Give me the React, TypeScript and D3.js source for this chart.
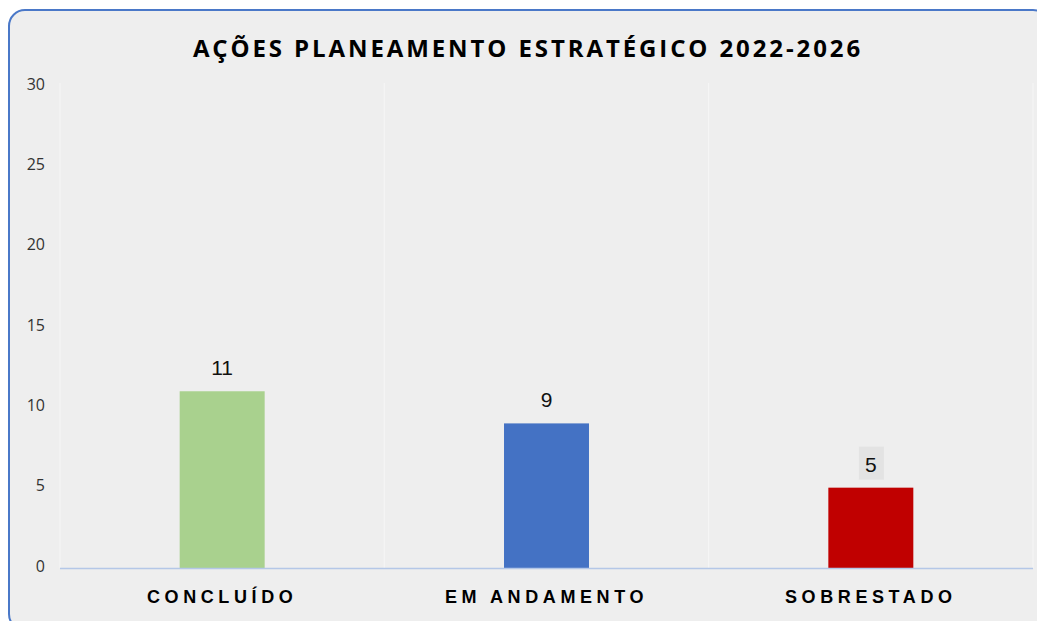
import React, { useEffect, useRef } from 'react';
import * as d3 from 'd3';

const categories = ['CONCLUÍDO', 'EM ANDAMENTO', 'SOBRESTADO'];
const values = [11, 9, 5];
const colors = ['#a9d18e', '#4472c4', '#c00000'];
const yTicks = [0, 5, 10, 15, 20, 25, 30];
const title = 'AÇÕES PLANEAMENTO ESTRATÉGICO 2022-2026';

function App() {
  const ref = useRef<SVGSVGElement>(null);

  useEffect(() => {
    const width = 1037, height = 621;
    const margin = { top: 86, right: 4, bottom: 53, left: 60 };
    const svg = d3.select(ref.current);
    svg.selectAll('*').remove();

    // background + rounded border
    svg.append('rect').attr('width', width).attr('height', height).attr('fill', '#ffffff');
    svg.append('rect')
      .attr('x', 9).attr('y', 10)
      .attr('width', 1040).attr('height', 620)
      .attr('rx', 16)
      .attr('fill', '#eeeeee')
      .attr('stroke', '#4a78c8')
      .attr('stroke-width', 2);

    svg.append('text')
      .attr('x', 528).attr('y', 57)
      .attr('text-anchor', 'middle')
      .attr('font-family', 'Open Sans, sans-serif')
      .attr('font-weight', 'bold')
      .attr('font-size', 24)
      .attr('letter-spacing', 2.9)
      .attr('fill', '#000')
      .text(title);

    const x = d3.scaleBand()
      .domain(categories)
      .range([margin.left, width - margin.right])
      .paddingInner(0)
      .paddingOuter(0);

    const y = d3.scaleLinear()
      .domain([0, 30])
      .range([height - margin.bottom, margin.top]);

    // vertical gridlines at category boundaries
    const bounds = categories.map(c => x(c) as number).concat([x.range()[1]]);
    svg.append('g').selectAll('line').data(bounds).join('line')
      .attr('x1', d => d).attr('x2', d => d)
      .attr('y1', y(30) - 3).attr('y2', y(0))
      .attr('stroke', '#f6f6f6').attr('stroke-width', 1);

    // y axis labels
    svg.append('g').selectAll('text').data(yTicks).join('text')
      .attr('x', 45)
      .attr('y', d => y(d) - 2)
      .attr('dy', '0.35em')
      .attr('text-anchor', 'end')
      .attr('font-family', 'Open Sans, sans-serif')
      .attr('font-size', 16)
      .attr('fill', '#333')
      .text(d => d);

    const bw = x.bandwidth() * 0.262;
    svg.append('g').selectAll('rect').data(values).join('rect')
      .attr('x', (d, i) => (x(categories[i]) as number) + x.bandwidth() / 2 - bw / 2)
      .attr('y', d => y(d))
      .attr('width', bw)
      .attr('height', d => y(0) - y(d))
      .attr('fill', (d, i) => colors[i]);

    // baseline
    svg.append('line')
      .attr('x1', margin.left).attr('x2', width - margin.right)
      .attr('y1', y(0) + 0.5).attr('y2', y(0) + 0.5)
      .attr('stroke', '#b4c7e7').attr('stroke-width', 1.5);

    // label box behind last value
    const lastI = values.length - 1;
    const cxLast = (x(categories[lastI]) as number) + x.bandwidth() / 2;
    svg.append('rect')
      .attr('x', cxLast - 12).attr('y', y(values[lastI]) - 41)
      .attr('width', 25).attr('height', 33)
      .attr('fill', '#e3e3e3');

    svg.append('g').selectAll('text').data(values).join('text')
      .attr('x', (d, i) => (x(categories[i]) as number) + x.bandwidth() / 2)
      .attr('y', d => y(d) - 16)
      .attr('text-anchor', 'middle')
      .attr('font-family', 'Liberation Sans, Arial, sans-serif')
      .attr('font-size', 21)
      .attr('fill', '#111')
      .text(d => d);

    // category labels
    svg.append('g').selectAll('text').data(categories).join('text')
      .attr('x', d => (x(d) as number) + x.bandwidth() / 2)
      .attr('y', 603)
      .attr('text-anchor', 'middle')
      .attr('font-family', 'Liberation Sans, Arial, sans-serif')
      .attr('font-weight', 'bold')
      .attr('font-size', 18)
      .attr('letter-spacing', 4.6)
      .attr('fill', '#000')
      .text(d => d);
  }, []);

  return (
    <svg ref={ref} width={1037} height={621}
      style={{ position: 'absolute', left: 0, top: 0, display: 'block' }} />
  );
}

export default App;
